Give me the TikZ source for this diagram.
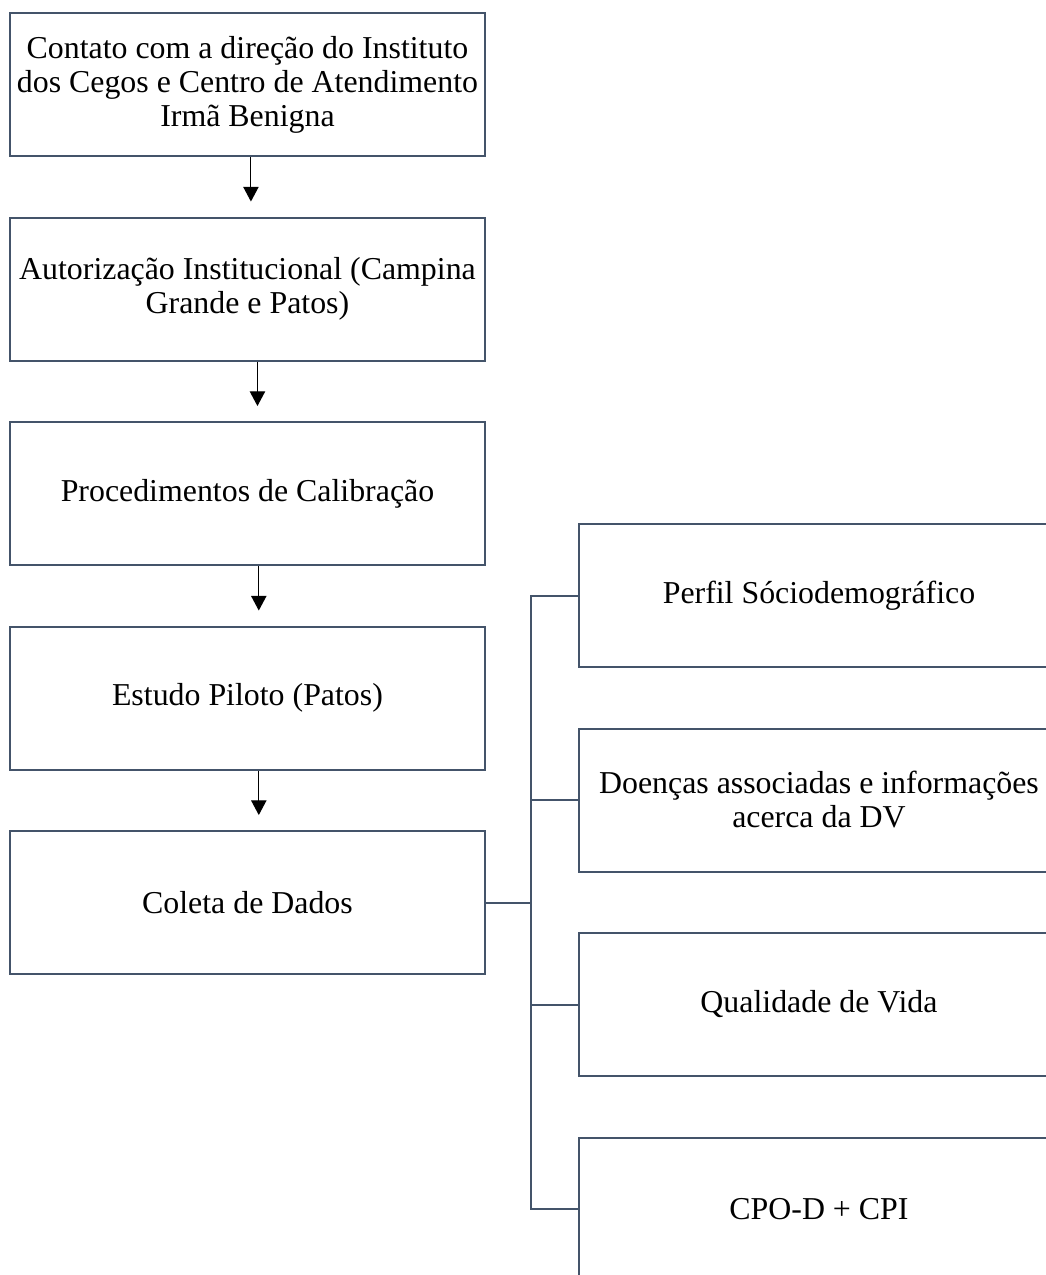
\documentclass[tikz,border=0pt]{standalone}
\usepackage{fontspec}
\setmainfont{Liberation Serif}
\usepackage{tikz}
\usetikzlibrary{arrows.meta,positioning,calc}
\definecolor{boxslate}{HTML}{44546A}
\tikzset{
  stage/.style      = {draw=boxslate, line width=1.5pt, fill=white, minimum height=107.25pt,
                       minimum width=356.25pt, inner sep=2pt, align=center},
  topic/.style      = {stage, minimum width=360pt},
  sig/.style        = {-{Triangle[length=11pt, width=11.5pt]}, line width=0.8pt, black,
                       shorten >=11.25pt},
  wire/.style       = {draw=boxslate, line width=1.5pt},
  node distance     = 44.625pt and 69pt,
  every node/.style = {font=\fontsize{23.9pt}{25.5pt}\selectfont},
}
\begin{document}
\begin{tikzpicture}
  \useasboundingbox (0,0) rectangle (784.5pt,-956.25pt);
  % etapas
  \node[stage] (contato) at (185.6pt,-63.4pt)
    {Contato com a direção do Instituto\\dos Cegos e Centro de Atendimento\\Irmã Benigna};
  \node[stage, below=of contato] (autoriz) {Autorização Institucional (Campina\\Grande e Patos)};
  \node[stage, below=of autoriz] (calib) {Procedimentos de Calibração};
  \node[stage, below=of calib] (piloto) {Estudo Piloto (Patos)};
  \node[stage, below=of piloto] (coleta) {Coleta de Dados};
  % instrumentos
  \node[topic, right=of coleta, anchor=west, yshift=76.9pt] (doencas)
    {Doenças associadas e informações\\acerca da DV};
  \node[topic, above=of doencas] (perfil) {Perfil Sóciodemográfico};
  \node[topic, below=of doencas] (qualid) {Qualidade de Vida};
  \node[topic, below=of qualid] (cpo) {CPO-D + CPI};
  \draw[sig] ([xshift=2.6pt]contato.south) -- ([xshift=2.6pt]autoriz.north);
  \draw[sig] ([xshift=7.5pt]autoriz.south) -- ([xshift=7.5pt]autoriz.south |- calib.north);
  \draw[sig] ([xshift=8.5pt]calib.south) -- ([xshift=8.5pt]calib.south |- piloto.north);
  \draw[sig] ([xshift=8.5pt]piloto.south) -- ([xshift=8.5pt]piloto.south |- coleta.north);
  \coordinate (jn) at ($(coleta.east)+(33.75pt,0)$);
  \draw[wire] (coleta.east) -- (jn);
  \draw[wire] (perfil.west) -| (jn) |- (cpo.west);
  \draw[wire] (jn |- doencas.west) -- (doencas.west);
  \draw[wire] (jn |- qualid.west) -- (qualid.west);
\end{tikzpicture}
\end{document}
